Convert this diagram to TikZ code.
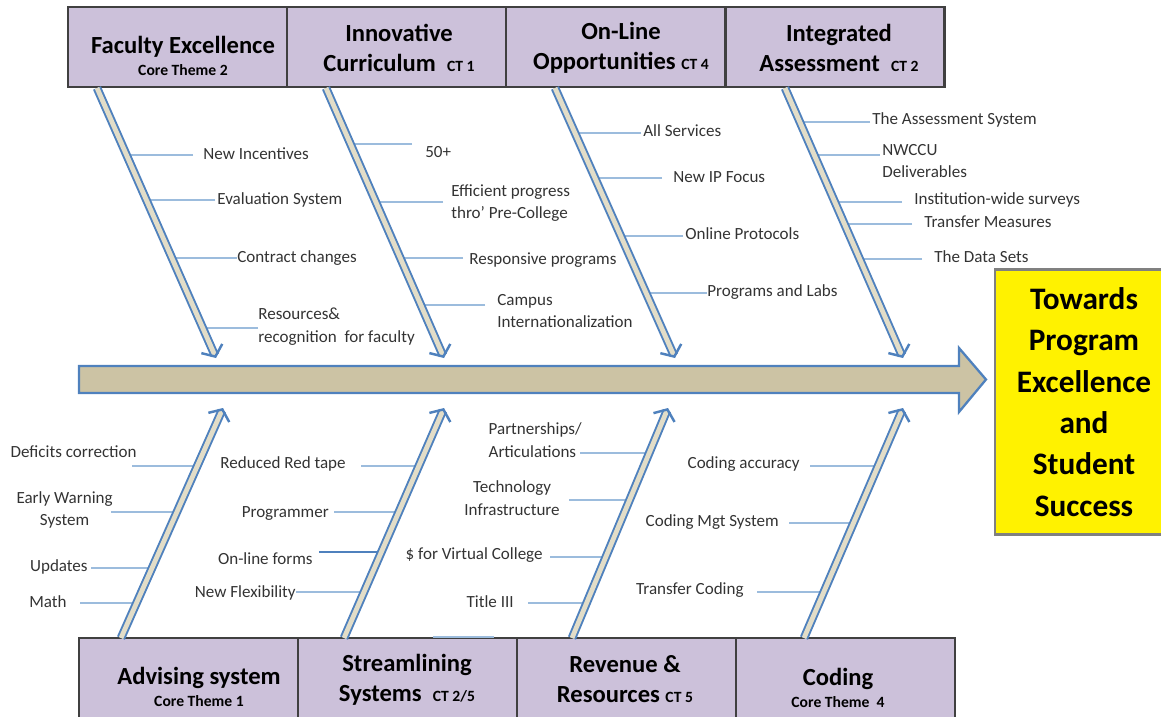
\documentclass[tikz,border=0pt]{standalone}
\usepackage{fontspec}
\setmainfont{Carlito}
\usetikzlibrary{arrows.meta}

\definecolor{lav}{HTML}{CCC1DA}
\definecolor{steel}{HTML}{4F81BD}
\definecolor{ribc}{HTML}{9CBCDD}
\definecolor{tan}{HTML}{CCC3A4}
\definecolor{bonein}{HTML}{E2DDC8}

\newcommand\ctag[1]{{\fontsize{8.9}{10}\selectfont #1}}

\begin{document}
\begin{tikzpicture}[x=0.02cm, y=-0.02cm, every node/.style={font=\fontsize{9.7}{13}\selectfont, text=black!80}, box/.style={draw=black!75, line width=1.2pt, fill=lav, minimum width=4.38cm, minimum height=1.6cm, inner sep=0pt}, hd/.style={align=center, text=black, font=\bfseries\fontsize{14}{17}\selectfont}, lbl/.style={inner sep=0pt, anchor=west, align=left}, lbr/.style={inner sep=0pt, anchor=east, align=center}, rib/.style={draw=ribc, line width=1.6pt}, goal/.style={draw=black!50, line width=1.2pt, fill=yellow, minimum width=3.56cm, minimum height=5.3cm, align=center, text=black, font=\bfseries\fontsize{17.8}{23.5}\selectfont}, bone/.style={draw=steel, line width=1.1pt, double=bonein, double distance=2.7pt, -{Straight Barb[length=5pt, width=13pt, line width=1.4pt]}}]
	\useasboundingbox (0,0) rectangle (1161,717);
	\node[box] (fbox) at (177.5,47) {};
	\node[box] (ibox) at (396.5,47) {};
	\node[box] (obox) at (615.5,47) {};
	\node[box] (abox) at (835,47) {};
	\node[box, minimum height=1.68cm] (vbox) at (188.5,680) {};
	\node[box, minimum height=1.68cm] (sbox) at (407.5,680) {};
	\node[box, minimum height=1.68cm] (rbox) at (626.5,680) {};
	\node[box, minimum height=1.68cm] (cbox) at (845.5,680) {};
	\node[hd] (fac) at (183,56) {Faculty Excellence\\[-4pt]\ctag{Core Theme 2}};
	\node[hd] (inn) at (399,48) {Innovative\\Curriculum\ \ \ctag{CT 1}};
	\node[hd] (onl) at (621,48) {On-Line\\Opportunities \ctag{CT 4}};
	\node[hd] (int) at (839,48) {Integrated\\Assessment\ \ \ctag{CT 2}};
	\node[hd] (adv) at (199,687) {Advising system\\[-4pt]\ctag{Core Theme 1}};
	\node[hd] (str) at (407,680) {Streamlining\\Systems\ \ \ctag{CT 2/5}};
	\node[hd] (rev) at (625,679) {Revenue \&\\Resources \ctag{CT 5}};
	\node[hd] (cod) at (838,688) {Coding\\[-4pt]\ctag{Core Theme\ \ 4}};
	\draw[draw=steel, line width=1.3pt, fill=tan] (79,366) -- (959,366) -- (959,348) -- (986,379.5) -- (959,412) -- (959,393) -- (79,393) -- cycle;
	\node[goal] (goal) at (1084,402) {Towards\\Program\\Excellence\\and\\Student\\Success};
	\coordinate (f0) at (97,88);
	\coordinate (f1) at (216,358);
	\coordinate (i0) at (326,88);
	\coordinate (i1) at (444,358);
	\coordinate (o0) at (555,88);
	\coordinate (o1) at (675,358);
	\coordinate (a0) at (785,88);
	\coordinate (a1) at (903,358);
	\coordinate (v0) at (121,638);
	\coordinate (v1) at (223,408);
	\coordinate (s0) at (344,638);
	\coordinate (s1) at (444,408);
	\coordinate (r0) at (572,638);
	\coordinate (r1) at (668,408);
	\coordinate (c0) at (804,638);
	\coordinate (c1) at (903,408);
	\node[lbl] (ni) at (203,154) {New Incentives};
	\node[lbl] (es) at (217,200) {Evaluation System};
	\node[lbl] (cc) at (237,258) {Contract changes};
	\node[lbl] (rr) at (258,327) {Resources\&\\recognition\ \ for faculty};
	\node[lbl] (fifty) at (425,152) {50+};
	\node[lbl] (ep) at (451,203) {Efficient progress\\thro' Pre-College};
	\node[lbl] (rp) at (469,260) {Responsive programs};
	\node[lbl] (ci) at (497,311) {Campus\\Internationalization};
	\node[lbl] (as) at (643,131) {All Services};
	\node[lbl] (ip) at (673,177) {New IP Focus};
	\node[lbl] (op) at (685,234) {Online Protocols};
	\node[lbl] (pl) at (707,292) {Programs and Labs};
	\node[lbl] (tas) at (872,120) {The Assessment System};
	\node[lbl] (nw) at (882,161) {NWCCU\\Deliverables};
	\node[lbl] (iw) at (914,200) {Institution-wide surveys};
	\node[lbl] (tm) at (924,222) {Transfer Measures};
	\node[lbl] (ds) at (934,257) {The Data Sets};
	\node[lbr] (dc) at (137,452) {Deficits correction};
	\node[lbr] (ew) at (113,510) {Early Warning\\System};
	\node[lbr] (up) at (88,567) {Updates};
	\node[lbr] (ma) at (67,602) {Math};
	\node[lbr] (rt) at (346,464) {Reduced Red tape};
	\node[lbr] (pg) at (329,513) {Programmer};
	\node[lbr] (of) at (313,559) {On-line forms};
	\node[lbr] (nf) at (296,593) {New Flexibility};
	\node[lbr, align=left] (pa) at (582,440) {Partnerships/\\Articulations};
	\node[lbr] (ti) at (560,498) {Technology\\Infrastructure};
	\node[lbr] (vc) at (543,555) {\$ for Virtual College};
	\node[lbr] (t3) at (514,602) {Title III};
	\node[lbr] (ca) at (800,464) {Coding accuracy};
	\node[lbr] (cm) at (779,522) {Coding Mgt System};
	\node[lbr] (tc) at (744,590) {Transfer Coding};
	\draw[rib] ([shift={(-10,1)}]ni.west) -- +(-66,0);
	\draw[rib] ([shift={(-2,0)}]es.west) -- +(-69,0);
	\draw[rib] (cc.west) -- +(-65,0);
	\draw[rib] ([shift={(0,1)}]rr.west) -- +(-55,0);
	\draw[rib] ([shift={(-13,-8)}]fifty.west) -- +(-62,0);
	\draw[rib] ([shift={(-8,-1)}]ep.west) -- +(-67,0);
	\draw[rib] ([shift={(-6,-2)}]rp.west) -- +(-63,0);
	\draw[rib] ([shift={(-12,-6)}]ci.west) -- +(-64,0);
	\draw[rib] ([shift={(-2,2)}]as.west) -- +(-66,0);
	\draw[rib] ([shift={(-11,1)}]ip.west) -- +(-67,0);
	\draw[rib] ([shift={(-2,2)}]op.west) -- +(-62,0);
	\draw[rib] ([shift={(0,1)}]pl.west) -- +(-61,0);
	\draw[rib] ([shift={(-2,2)}]tas.west) -- +(-70,0);
	\draw[rib] ([shift={(-2,-6)}]nw.west) -- +(-66,0);
	\draw[rib] ([shift={(-12,2)}]iw.west) -- +(-67,0);
	\draw[rib] ([shift={(-12,2)}]tm.west) -- +(-68,0);
	\draw[rib] ([shift={(-12,2)}]ds.west) -- +(-62,0);
	\draw[rib] ([shift={(-5,14)}]dc.east) -- +(65,0);
	\draw[rib] ([shift={(-2,2)}]ew.east) -- +(66,0);
	\draw[rib] ([shift={(3,1)}]up.east) -- +(61,0);
	\draw[rib] ([shift={(13,1)}]ma.east) -- +(56,0);
	\draw[rib] ([shift={(15,2)}]rt.east) -- +(58,0);
	\draw[rib] ([shift={(5,-1)}]pg.east) -- +(65,0);
	\draw[steel, line width=0.9pt] ([shift={(6,-7)}]of.east) -- +(62,0);
	\draw[rib] ([shift={(0,-1)}]nf.east) -- +(68,0);
	\draw[rib] ([shift={(-2,13)}]pa.east) -- +(69,0);
	\draw[rib] ([shift={(9,2)}]ti.east) -- +(61,0);
	\draw[rib] ([shift={(7,2)}]vc.east) -- +(56,0);
	\draw[rib] ([shift={(14,1)}]t3.east) -- +(59,0);
	\draw[rib] ([shift={(10,2)}]ca.east) -- +(68,0);
	\draw[rib] ([shift={(10,1)}]cm.east) -- +(65,0);
	\draw[rib] ([shift={(13,2)}]tc.east) -- +(67,0);
	\draw[rib] ([shift={(136,0)}]sbox.north west) -- +(61,0);
	\draw[bone] (f0) -- (f1);
	\draw[bone] (i0) -- (i1);
	\draw[bone] (o0) -- (o1);
	\draw[bone] (a0) -- (a1);
	\draw[bone] (v0) -- (v1);
	\draw[bone] (s0) -- (s1);
	\draw[bone] (r0) -- (r1);
	\draw[bone] (c0) -- (c1);
\end{tikzpicture}
\end{document}
